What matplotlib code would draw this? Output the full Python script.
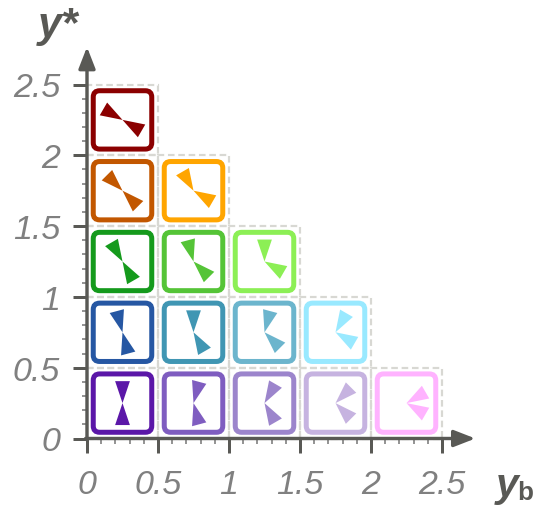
import numpy as np
import matplotlib
matplotlib.use("Agg")
import matplotlib.pyplot as plt
from matplotlib.patches import FancyBboxPatch, Polygon, Rectangle

plt.rcParams['font.family'] = ['Liberation Sans', 'DejaVu Sans']

# one row per y* value, bottom row first
y_star = [0.25, 0.75, 1.25, 1.75, 2.25]
y_b = [0.25, 0.75, 1.25, 1.75, 2.25]

upper_angle = [[90, 75, 60, 45, 30],
               [105, 90, 75, 60],
               [120, 105, 90],
               [135, 120],
               [150]]
lower_angle = [[-90, -75, -60, -45, -30],
               [-75, -60, -45, -30],
               [-60, -45, -30],
               [-45, -30],
               [-30]]
colors = [['#5b17a8', '#7f5dc0', '#9c85cc', '#c6b3e0', '#ffb3ff'],
          ['#2657a3', '#4096b3', '#6cb5cd', '#99e9ff'],
          ['#159a1c', '#55c437', '#8cef55'],
          ['#c25700', '#ffa500'],
          ['#8b0000']]
tick_vals = [0, 0.5, 1, 1.5, 2, 2.5]
tick_labels = ['0', '0.5', '1', '1.5', '2', '2.5']

axis_color = '#595955'
px = 72 / 100  # points per pixel
W, H = 533, 506
x0, y0, sx, sy = 87, 439.5, 142, 141.6  # pixel place of the origin, pixels per unit


def triangle(cx, cy, angle):
    # tip on the tile centre, base pointing along angle
    a = np.radians(angle)
    length, half = 0.155, 0.052
    bx, by = cx + length * np.cos(a), cy + length * np.sin(a)
    nx, ny = -np.sin(a) * half, np.cos(a) * half
    return [(cx, cy), (bx + nx, by + ny), (bx - nx, by - ny)]


fig = plt.figure(figsize=(W / 100, H / 100), dpi=100)
ax = fig.add_axes([0, 0, 1, 1])
ax.set_xlim(-x0 / sx, (W - x0) / sx)
ax.set_ylim(-(H - y0) / sy, y0 / sy)
ax.patch.set_visible(False)

# dashed cell outlines
for i, cy in enumerate(y_star):
    for j in range(len(upper_angle[i])):
        ax.add_patch(Rectangle((y_b[j] - 0.25, cy - 0.25), 0.5, 0.5, fill=False,
                               ec='#d8d8d3', lw=2.2 * px, ls=(0, (3, 1.7)), zorder=1))

# tiles
for i, cy in enumerate(y_star):
    for j, c in enumerate(colors[i]):
        cx = y_b[j]
        ax.add_patch(FancyBboxPatch((cx - 0.165, cy - 0.165), 0.33, 0.33,
                                    boxstyle='round,pad=0.041,rounding_size=0.045',
                                    fc='white', ec=c, lw=5 * px, zorder=2))
        ax.add_patch(Polygon(triangle(cx, cy, upper_angle[i][j]), fc=c, ec='none', zorder=3))
        ax.add_patch(Polygon(triangle(cx, cy, lower_angle[i][j]), fc=c, ec='none', zorder=3))

# axes through the origin
for s in ['top', 'right', 'left', 'bottom']:
    ax.spines[s].set_visible(False)
ax.spines['left'].set_position(('data', 0))
ax.spines['bottom'].set_position(('data', 0))

ax.set_xticks(tick_vals)
ax.set_yticks(tick_vals)
ax.set_xticklabels(tick_labels, style='italic', family=['Liberation Sans'])
ax.set_yticklabels(tick_labels, style='italic', family=['Liberation Sans'])
minor = [v / 10 for v in range(26) if v % 5 != 0]
ax.set_xticks(minor, minor=True)
ax.set_yticks(minor, minor=True)
ax.tick_params(which='major', direction='out', length=14 * px, width=3 * px, color=axis_color,
               labelcolor='#808080', labelsize=24.5)
ax.tick_params(axis='x', which='major', pad=17 * px)
ax.tick_params(axis='y', which='major', pad=13 * px)
ax.tick_params(which='minor', direction='out', length=5 * px, width=1.8 * px, color='#8a8a8a')

# arrows
arrow = dict(arrowstyle='-|>,head_length=%f,head_width=%f' % (18 * px, 7 * px),
             color=axis_color, lw=3.4 * px, shrinkA=0, shrinkB=0, mutation_scale=1)
ax.annotate('', xy=(2.735, 0), xytext=(-0.01, 0), arrowprops=arrow, zorder=5)
ax.annotate('', xy=(0, 2.765), xytext=(0, -0.01), arrowprops=arrow, zorder=5)

# axis names
ax.text(-0.345, 2.92, 'y*', fontsize=43 * px, style='italic', weight='bold',
        color=axis_color, ha='left', va='center')
ax.text(2.875, -0.33, 'y', fontsize=41 * px, style='italic', weight='bold',
        color=axis_color, ha='left', va='center')
ax.text(3.03, -0.375, 'b', fontsize=26 * px, weight='bold',
        color=axis_color, ha='left', va='center')

fig.savefig('out.png', dpi=100)
